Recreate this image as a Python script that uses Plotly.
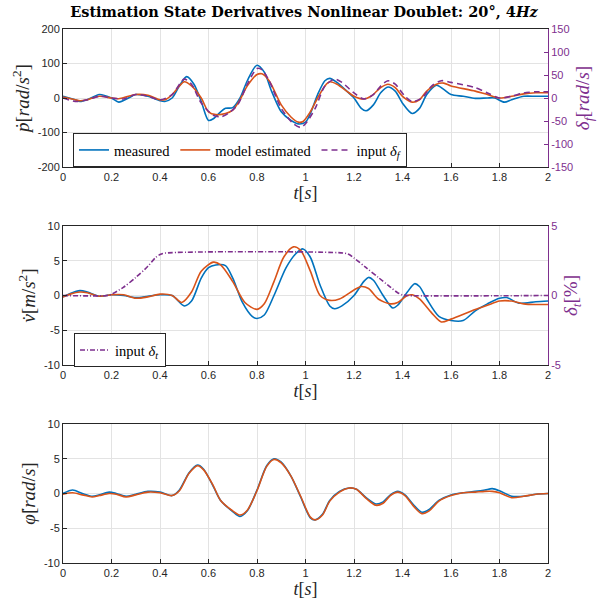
import plotly.graph_objects as go

# ---------------- data ----------------
# roll acceleration p_dot [rad/s^2]
t_p_meas = [0, 0.05, 0.07, 0.1, 0.15, 0.2, 0.23, 0.27, 0.3, 0.35, 0.4, 0.42, 0.45, 0.48, 0.51, 0.54,
            0.57, 0.6, 0.62, 0.65, 0.67, 0.7, 0.73, 0.76, 0.8, 0.83, 0.86, 0.9, 0.94, 0.97, 1.0, 1.02,
            1.05, 1.08, 1.1, 1.13, 1.17, 1.2, 1.23, 1.25, 1.28, 1.31, 1.34, 1.37, 1.4, 1.44, 1.47, 1.5,
            1.54, 1.57, 1.6, 1.65, 1.7, 1.75, 1.78, 1.82, 1.85, 1.9, 1.95, 2.0]
p_meas = [5, -5, -10, -5, 10, 0, -12, 0, 10, 5, -8, -10, 0, 35, 62, 40,
          -10, -65, -60, -40, -30, -28, 0, 50, 95, 75, 20, -40, -65, -75, -70, -45,
          10, 50, 57, 45, 20, 0, -30, -37, -20, 15, 32, 20, -15, -45, -30, 10,
          37, 25, 10, 5, -1, 0, 0, -12, -5, 5, 5, 5]

t_p_model = [0, 0.05, 0.07, 0.1, 0.15, 0.2, 0.23, 0.27, 0.3, 0.35, 0.4, 0.42, 0.45, 0.48, 0.5, 0.53,
             0.57, 0.6, 0.63, 0.67, 0.7, 0.73, 0.76, 0.8, 0.82, 0.85, 0.9, 0.94, 0.97, 0.99, 1.02,
             1.05, 1.08, 1.1, 1.13, 1.17, 1.2, 1.24, 1.27, 1.31, 1.34, 1.37, 1.4, 1.44, 1.47, 1.5,
             1.54, 1.57, 1.6, 1.7, 1.75, 1.8, 1.85, 1.9, 1.95, 2.0]
p_model = [3, -5, -8, -5, 5, 0, -2, 5, 10, 8, -5, -5, 10, 35, 47, 35,
           0, -40, -48, -45, -35, -5, 35, 68, 70, 50, -20, -55, -70, -68, -40,
           0, 35, 47, 40, 20, 5, -3, 5, 30, 40, 30, 5, -12, -5, 20,
           40, 43, 35, 20, 10, 0, 5, 12, 15, 15]

# aileron input delta_f [rad/s] (right axis)
t_df = [0, 0.05, 0.1, 0.15, 0.2, 0.25, 0.3, 0.35, 0.4, 0.45, 0.5, 0.53, 0.57, 0.62, 0.65, 0.68,
        0.72, 0.76, 0.8, 0.82, 0.85, 0.9, 0.95, 0.98, 1.0, 1.04, 1.08, 1.12, 1.15, 1.2, 1.24,
        1.28, 1.31, 1.34, 1.37, 1.41, 1.44, 1.48, 1.52, 1.56, 1.6, 1.7, 1.75, 1.8, 1.85, 1.9,
        1.95, 2.0]
delta_f = [0, -7.5, -4, 4, 0, -2, 7.5, 4, -4, 7.5, 41, 30, -11, -37.5, -41, -34,
           -15, 30, 64, 61.5, 37.5, -22.5, -56, -64, -56, -22.5, 26, 41, 34, 11, -2,
           7.5, 26, 37.5, 30, 4, -7.5, 0, 26, 37.5, 34, 22.5, 11, 0, 4, 11,
           13.5, 13.5]

# lateral acceleration v_dot [m/s^2]
t_v_meas = [0, 0.03, 0.07, 0.1, 0.15, 0.2, 0.25, 0.3, 0.35, 0.4, 0.45, 0.5, 0.53, 0.57, 0.6, 0.63,
            0.67, 0.7, 0.74, 0.78, 0.8, 0.83, 0.87, 0.92, 0.96, 0.99, 1.02, 1.06, 1.1, 1.12, 1.15,
            1.2, 1.24, 1.26, 1.28, 1.32, 1.36, 1.38, 1.42, 1.45, 1.47, 1.5, 1.55, 1.6, 1.65, 1.7,
            1.75, 1.8, 1.83, 1.88, 1.95, 2.0]
v_meas = [-0.2, 0.3, 0.7, 0.5, -0.1, 0.1, 0, -0.3, -0.1, 0.1, 0, -1.5, -0.8, 2.5, 4, 4.4,
          4.3, 2.5, -1, -3, -3.3, -2.8, 0, 4, 6, 6.7, 5.5, 1.5, -1.5, -1.9, -1.5,
          0, 2, 2.6, 2.2, 0, -1.8, -1.4, 0.5, 1.7, 1.3, -0.5, -3, -3.6, -3.6, -2.2,
          -1.2, -0.4, -0.3, -1.1, -0.9, -0.8]

t_v_model = [0, 0.03, 0.07, 0.1, 0.15, 0.2, 0.25, 0.3, 0.35, 0.4, 0.45, 0.49, 0.53, 0.57, 0.62,
             0.65, 0.7, 0.75, 0.8, 0.83, 0.87, 0.91, 0.95, 0.98, 1.02, 1.06, 1.1, 1.14, 1.2, 1.23,
             1.26, 1.3, 1.35, 1.38, 1.42, 1.44, 1.47, 1.52, 1.56, 1.6, 1.7, 1.75, 1.8, 1.85, 1.9,
             1.95, 2.0]
v_model = [-0.2, 0.2, 0.5, 0.4, -0.1, 0.1, 0.1, -0.4, -0.2, 0.2, 0, -1.0, 0.5, 3.5, 4.8,
           4.4, 2, -1, -2.0, -1.2, 2, 5.5, 7, 6.5, 3.5, 0, -0.7, -0.5, 0.8, 1.3,
           1, -0.5, -1.2, -1.0, 0, 0.1, -0.5, -2.5, -3.8, -3.4, -2.0, -1.4, -0.8, -0.8, -1.2,
           -1.3, -1.3]

# throttle input delta_t [%] (right axis)
t_dt = [0, 0.18, 0.2, 0.25, 0.3, 0.35, 0.38, 0.4, 0.42, 1.16, 1.18, 1.2, 1.25, 1.3, 1.35, 1.38,
        1.4, 1.42, 2.0]
delta_t = [0, 0, 0.1, 0.6, 1.3, 2.1, 2.7, 2.95, 3.05, 3.05, 2.95, 2.7, 2.0, 1.3, 0.6, 0.2,
           0.05, 0, 0]

# roll rate phi_dot [rad/s]
t_phi = [0, 0.04, 0.08, 0.12, 0.15, 0.19, 0.22, 0.26, 0.3, 0.35, 0.4, 0.45, 0.48, 0.52, 0.555,
         0.58, 0.62, 0.65, 0.7, 0.73, 0.76, 0.8, 0.84, 0.87, 0.9, 0.94, 0.98, 1.02, 1.04, 1.07,
         1.1, 1.14, 1.18, 1.21, 1.25, 1.29, 1.32, 1.35, 1.38, 1.41, 1.45, 1.48, 1.51, 1.55, 1.6,
         1.65, 1.7, 1.74, 1.77, 1.8, 1.85, 1.9, 1.95, 2.0]
phi_meas = [0, 0.5, 0, -0.4, -0.2, 0.2, 0, -0.4, -0.1, 0.3, 0.2, -0.3, 0.5, 3, 4.1,
            3.5, 1, -1, -2.6, -3.3, -2.5, 0.5, 4, 5, 4.5, 2.5, -0.5, -3.5, -3.8, -3,
            -1, 0.3, 0.8, 0.6, -0.6, -1.5, -1.2, -0.2, 0.3, -0.2, -1.8, -2.7, -2.3, -1.0, -0.2,
            0.1, 0.3, 0.5, 0.7, 0.4, -0.4, -0.4, -0.1, 0]
phi_model = [-0.1, 0.1, -0.2, -0.5, -0.3, 0, -0.1, -0.5, -0.2, 0.2, 0.1, -0.3, 0.4, 2.9, 4.0,
             3.4, 1.1, -1.0, -2.5, -3.1, -2.4, 0.4, 3.9, 4.9, 4.4, 2.5, -0.4, -3.4, -3.8, -3.1,
             -1.1, 0.2, 0.8, 0.6, -0.7, -1.7, -1.4, -0.3, 0.2, -0.3, -2.0, -2.9, -2.5, -1.1, -0.3,
             0.1, 0.2, 0.3, 0.3, 0.1, -0.6, -0.4, -0.1, 0]

x_ticks = [0, 0.2, 0.4, 0.6, 0.8, 1, 1.2, 1.4, 1.6, 1.8, 2]
x_tick_text = ["0", "0.2", "0.4", "0.6", "0.8", "1", "1.2", "1.4", "1.6", "1.8", "2"]

# ---------------- styling ----------------
BLUE = "#0072BD"
ORANGE = "#D95319"
PURPLE = "#7E2F8E"
TICK_COL = "#262626"
GRID_COL = "#e3e3e3"
SANS = "Liberation Sans, Arial, sans-serif"
SERIF = "Liberation Serif, Times New Roman, serif"
TITLE_SERIF = "DejaVu Serif, serif"

fig = go.Figure()

def line(x, y, color, name, xa, ya, dash="solid", legend="legend", show=True):
    fig.add_trace(go.Scatter(
        x=x, y=y, mode="lines", name=name, xaxis=xa, yaxis=ya,
        line=dict(color=color, width=1.6, dash=dash, shape="spline", smoothing=0.8),
        legend=legend, showlegend=show))

# panel 1
line(t_p_meas, p_meas, BLUE, "measured", "x", "y")
line(t_p_model, p_model, ORANGE, "model estimated", "x", "y")
line(t_df, delta_f, PURPLE, "input <i>δ<sub>f</sub></i>", "x", "y2", dash="6px,4px")
# panel 2
line(t_v_meas, v_meas, BLUE, "measured", "x2", "y3", show=False)
line(t_v_model, v_model, ORANGE, "model estimated", "x2", "y3", show=False)
line(t_dt, delta_t, PURPLE, "input <i>δ<sub>t</sub></i>", "x2", "y4",
     dash="5px,2px,1px,2px", legend="legend2")
# panel 3
line(t_phi, phi_meas, BLUE, "measured", "x3", "y5", show=False)
line(t_phi, phi_model, ORANGE, "model estimated", "x3", "y5", show=False)

W, H = 602, 603
x_dom = [63 / W, 548 / W]
panels = [(29, 167), (226, 365), (424, 563)]
y_doms = [[1 - b / H, 1 - t / H] for t, b in panels]

def xaxis(anchor):
    return dict(domain=x_dom, anchor=anchor, range=[0, 2], tickvals=x_ticks, ticktext=x_tick_text,
                showgrid=True, gridcolor=GRID_COL, zeroline=False,
                showline=True, linecolor="#262626", linewidth=1, mirror=True,
                ticks="inside", ticklen=4, tickcolor="#262626",
                tickfont=dict(family=SANS, size=11, color=TICK_COL),
                title=dict(text="<i>t</i>[<i>s</i>]", font=dict(family=SERIF, size=18, color=TICK_COL),
                           standoff=1),
                automargin=False)

def yaxis_left(dom, anchor, vals, title, mirror):
    return dict(domain=dom, anchor=anchor, range=[vals[0], vals[-1]],
                tickvals=vals, ticktext=[str(v) for v in vals],
                showgrid=True, gridcolor=GRID_COL, zeroline=False,
                showline=True, linecolor="#262626", linewidth=1, mirror=mirror,
                ticks="inside", ticklen=4, tickcolor="#262626",
                tickfont=dict(family=SANS, size=11, color=TICK_COL),
                title=dict(text=title, font=dict(family=SERIF, size=19, color=TICK_COL), standoff=3),
                automargin=False)

def yaxis_right(dom, anchor, overlay, vals, title):
    return dict(domain=dom, anchor=anchor, overlaying=overlay, side="right",
                range=[vals[0], vals[-1]], tickvals=vals, ticktext=[str(v) for v in vals],
                showgrid=False, zeroline=False,
                showline=True, linecolor=PURPLE, linewidth=1,
                ticks="inside", ticklen=4, tickcolor=PURPLE,
                tickfont=dict(family=SANS, size=11, color=PURPLE),
                title=dict(text=title, font=dict(family=SERIF, size=19, color=PURPLE), standoff=3),
                automargin=False)

legend_common = dict(orientation="h", bgcolor="white", bordercolor="#262626", borderwidth=1,
                     font=dict(family=SERIF, size=14.5, color="#000"), xanchor="left", yanchor="top",
                     itemwidth=30, tracegroupgap=0)

fig.update_layout(
    width=W, height=H, margin=dict(l=0, r=0, t=0, b=0),
    paper_bgcolor="white", plot_bgcolor="white",
    title=dict(text="<b>Estimation State Derivatives Nonlinear Doublet: 20°, 4<i>Hz</i></b>",
               x=304 / W, xanchor="center", y=1 - 12 / H, yanchor="middle",
               font=dict(family=TITLE_SERIF, size=14.5, color="#000")),
    xaxis=xaxis("y"),
    xaxis2=xaxis("y3"),
    xaxis3=xaxis("y5"),
    yaxis=yaxis_left(y_doms[0], "x", [-200, -100, 0, 100, 200],
                     "<i>ṗ</i>[<i>rad</i>/<i>s</i><sup>2</sup>]", False),
    yaxis2=yaxis_right(y_doms[0], "x", "y", [-150, -100, -50, 0, 50, 100, 150],
                       "<i>δ<sub>f</sub></i>[<i>rad</i>/<i>s</i>]"),
    yaxis3=yaxis_left(y_doms[1], "x2", [-10, -5, 0, 5, 10],
                      "<i>v̇</i>[<i>m</i>/<i>s</i><sup>2</sup>]", False),
    yaxis4=yaxis_right(y_doms[1], "x2", "y3", [-5, 0, 5],
                       "<i>δ<sub>t</sub></i>[%]"),
    yaxis5=yaxis_left(y_doms[2], "x3", [-10, -5, 0, 5, 10],
                      "<i>φ̇</i>[<i>rad</i>/<i>s</i>]", True),
    legend=dict(x=73 / W, y=1 - 133 / H, **legend_common),
    legend2=dict(x=74 / W, y=1 - 333 / H, **legend_common),
)

fig.write_html("out.html")
